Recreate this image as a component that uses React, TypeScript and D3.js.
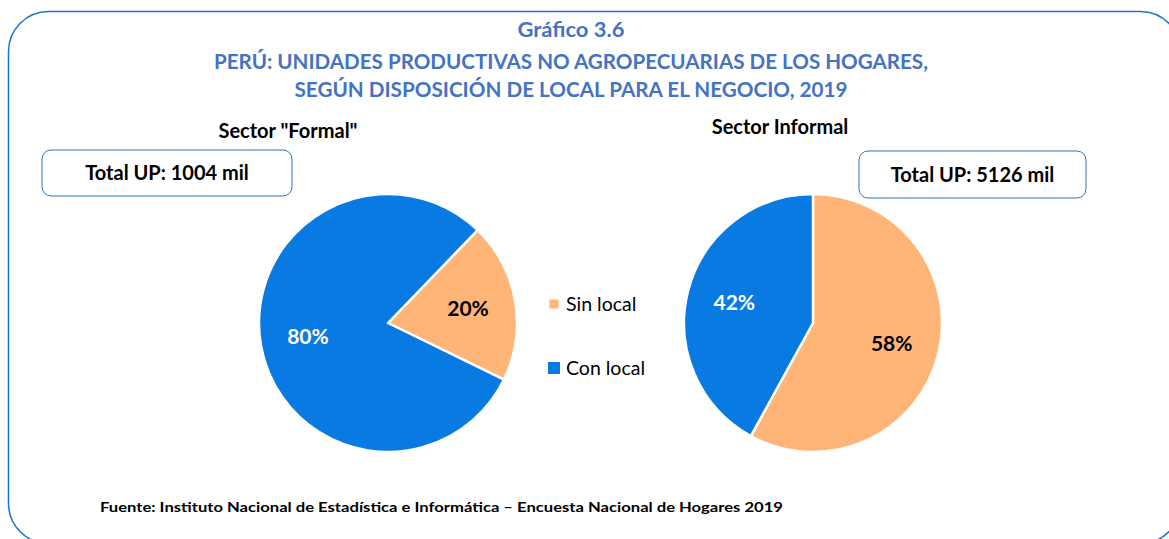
import React, { useEffect, useRef } from "react";
import * as d3 from "d3";

const categories = ["Sin local", "Con local"];
const colors = ["#FFB577", "#0A7AE3"];
const formalValues = [20, 80];
const informalValues = [58, 42];
const formalTotal = "Total UP: 1004 mil";
const informalTotal = "Total UP: 5126 mil";
const titleLines = [
  "Gráfico 3.6",
  "PERÚ: UNIDADES PRODUCTIVAS NO AGROPECUARIAS DE LOS HOGARES,",
  "SEGÚN DISPOSICIÓN DE LOCAL PARA EL NEGOCIO, 2019",
];
const source =
  "Fuente: Instituto Nacional de Estadística e Informática – Encuesta Nacional de Hogares 2019";

const width = 1169;
const height = 539;
const font = "Lato, 'Open Sans', sans-serif";

export default function App() {
  const svgRef = useRef<SVGSVGElement>(null);

  useEffect(() => {
    const svg = d3.select(svgRef.current);
    svg.selectAll("*").remove();

    // outer frame (runs off the right and bottom of the picture)
    svg
      .append("rect")
      .attr("x", 8.5)
      .attr("y", 11.5)
      .attr("width", 1172)
      .attr("height", 532)
      .attr("rx", 40)
      .attr("fill", "white")
      .attr("stroke", "#1B75CF")
      .attr("stroke-width", 1.5);

    // title
    const titleY = [37, 69, 97];
    const titleW = [107, 714, 553];
    titleLines.forEach((t, i) => {
      svg
        .append("text")
        .attr("x", 571)
        .attr("y", titleY[i])
        .attr("text-anchor", "middle")
        .attr("font-family", font)
        .attr("font-weight", "bold")
        .attr("font-size", 21)
        .attr("fill", "#4472C4")
        .attr("textLength", titleW[i])
        .attr("lengthAdjust", "spacingAndGlyphs")
        .text(t);
    });

    const radius = 129;
    const arc = d3.arc<d3.PieArcDatum<number>>().innerRadius(0).outerRadius(radius);
    const labelArc = d3
      .arc<d3.PieArcDatum<number>>()
      .innerRadius(radius * 0.63)
      .outerRadius(radius * 0.63);

    const pies = [
      {
        values: formalValues,
        cx: 388,
        cy: 323,
        start: (44 * Math.PI) / 180,
        title: 'Sector "Formal"',
        titleX: 288,
        titleY: 138,
        total: formalTotal,
        box: [42, 150, 250, 46],
      },
      {
        values: informalValues,
        cx: 813,
        cy: 323,
        start: 0,
        title: "Sector Informal",
        titleX: 780,
        titleY: 134,
        total: informalTotal,
        box: [859, 151, 227, 47],
      },
    ];

    pies.forEach((p) => {
      const pie = d3
        .pie<number>()
        .sort(null)
        .startAngle(p.start)
        .endAngle(p.start + 2 * Math.PI);
      const arcs = pie(p.values);
      const g = svg.append("g").attr("transform", `translate(${p.cx},${p.cy})`);
      g.selectAll("path")
        .data(arcs)
        .enter()
        .append("path")
        .attr("d", arc)
        .attr("fill", (d, i) => colors[i])
        .attr("stroke", "white")
        .attr("stroke-width", 2.5)
        .attr("stroke-linejoin", "round");
      g.selectAll("text")
        .data(arcs)
        .enter()
        .append("text")
        .attr("transform", (d) => `translate(${labelArc.centroid(d)})`)
        .attr("text-anchor", "middle")
        .attr("dy", "0.35em")
        .attr("font-family", font)
        .attr("font-weight", "bold")
        .attr("font-size", 21)
        .attr("fill", (d, i) => (i === 0 ? "black" : "white"))
        .text((d) => `${d.data}%`);

      svg
        .append("text")
        .attr("x", p.titleX)
        .attr("y", p.titleY)
        .attr("text-anchor", "middle")
        .attr("font-family", font)
        .attr("font-weight", "bold")
        .attr("font-size", 20)
        .attr("fill", "black")
        .text(p.title);

      const [bx, by, bw, bh] = p.box;
      svg
        .append("rect")
        .attr("x", bx)
        .attr("y", by)
        .attr("width", bw)
        .attr("height", bh)
        .attr("rx", 9)
        .attr("fill", "white")
        .attr("stroke", "#2E75B6")
        .attr("stroke-width", 1);
      svg
        .append("text")
        .attr("x", bx + bw / 2)
        .attr("y", by + bh / 2)
        .attr("dy", "0.35em")
        .attr("text-anchor", "middle")
        .attr("font-family", font)
        .attr("font-weight", "bold")
        .attr("font-size", 20)
        .attr("fill", "black")
        .text(p.total);
    });

    // legend
    const legendY = [304, 368];
    const sq = [9, 12];
    categories.forEach((c, i) => {
      svg
        .append("rect")
        .attr("x", 554 - sq[i] / 2)
        .attr("y", legendY[i] - sq[i] / 2)
        .attr("width", sq[i])
        .attr("height", sq[i])
        .attr("fill", colors[i]);
      svg
        .append("text")
        .attr("x", 566)
        .attr("y", legendY[i])
        .attr("dy", "0.35em")
        .attr("font-family", font)
        .attr("font-size", 19.5)
        .attr("fill", "black")
        .text(c);
    });

    svg
      .append("text")
      .attr("x", 100)
      .attr("y", 512)
      .attr("font-family", font)
      .attr("font-weight", "bold")
      .attr("font-size", 14)
      .attr("fill", "black")
      .attr("textLength", 683)
      .attr("lengthAdjust", "spacingAndGlyphs")
      .text(source);
  }, []);

  return (
    <svg
      ref={svgRef}
      width={width}
      height={height}
      style={{ position: "absolute", top: 0, left: 0, background: "white" }}
    />
  );
}
